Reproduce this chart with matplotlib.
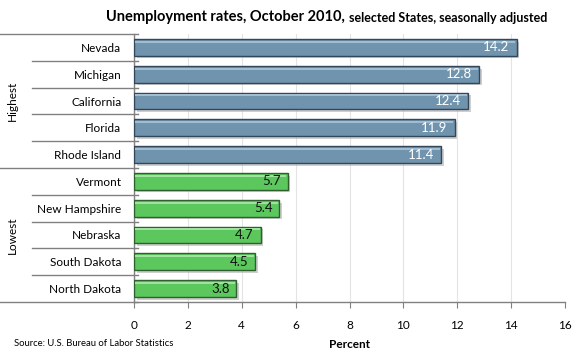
import matplotlib.pyplot as plt
import matplotlib.patheffects as pe
from matplotlib.lines import Line2D

plt.rcParams['font.family'] = ['Lato', 'DejaVu Sans']

# data
states = ['Nevada', 'Michigan', 'California', 'Florida', 'Rhode Island',
          'Vermont', 'New Hampshire', 'Nebraska', 'South Dakota', 'North Dakota']
rates = [14.2, 12.8, 12.4, 11.9, 11.4, 5.7, 5.4, 4.7, 4.5, 3.8]
groups = ['Highest', 'Lowest']
group_size = 5
xticks = [0, 2, 4, 6, 8, 10, 12, 14, 16]

blue_fill, blue_edge, blue_hi = '#7094ad', '#33475a', '#a3bdd0'
green_fill, green_edge, green_hi = '#5cc75c', '#2f5f2f', '#9fe29f'

fig = plt.figure(figsize=(5.8, 3.6), dpi=100)
ax = fig.add_axes([134 / 580, 1 - 302 / 360, 431 / 580, 268 / 360])

ypos = list(range(len(states)))
shadow = [pe.SimplePatchShadow(offset=(2, -2), shadow_rgbFace='#b0b0b0', alpha=0.6), pe.Normal()]
for i, (y, v) in enumerate(zip(ypos, rates)):
    hi = i < group_size
    fill = blue_fill if hi else green_fill
    edge = blue_edge if hi else green_edge
    light = blue_hi if hi else green_hi
    b = ax.barh(y, v, height=0.62, color=fill, edgecolor=edge, linewidth=1.0, zorder=3)
    for p in b:
        p.set_path_effects(shadow)
    # highlight strip near top of bar
    ax.barh(y - 0.21, v - 0.08, left=0.04, height=0.07, color=light, linewidth=0, zorder=4)
    ax.annotate(f'{v}', (v, y), xytext=(-5, 0), textcoords='offset points',
                ha='right', va='center', fontsize=9.5,
                color='white' if hi else '#111111', zorder=5)

ax.set_xlim(0, 16)
ax.set_ylim(len(states) - 0.5, -0.5)
ax.set_xticks(xticks)
ax.set_xticklabels([str(t) for t in xticks], fontsize=8.5)
ax.set_yticks(ypos)
ax.set_yticklabels(states, fontsize=8.5)
ax.tick_params(axis='y', length=0, pad=9)
ax.tick_params(axis='x', length=4, direction='out', color='#808080', pad=9)
ax.grid(axis='x', color='#e4e4e4', linewidth=0.8, zorder=0)
ax.set_axisbelow(True)
for s in ['top', 'right']:
    ax.spines[s].set_visible(False)
for s in ['left', 'bottom']:
    ax.spines[s].set_color('#808080')
    ax.spines[s].set_linewidth(1.0)

ax.set_xlabel('Percent', fontsize=8.5, fontweight='bold', labelpad=6)

# category separators left of axis
tr = ax.get_yaxis_transform()
x_inner = (32 - 134) / 431
x_outer = (0 - 134) / 431
for k in range(len(states) + 1):
    y = k - 0.5
    x0 = x_outer if k % group_size == 0 else x_inner
    ax.add_line(Line2D([x0, 0.01], [y, y], transform=tr, color='#808080',
                       linewidth=1.0, clip_on=False))

for g, name in enumerate(groups):
    yc = g * group_size + (group_size - 1) / 2
    ax.text((12 - 134) / 431, yc, name, transform=tr, rotation=90,
            ha='center', va='center', fontsize=8.5)

fig.text(345 / 580, 1 - 17 / 360, 'Unemployment rates, October 2010,', ha='right',
         va='center', fontsize=10.5, fontweight='bold')
fig.text(349 / 580, 1 - 17.5 / 360, 'selected States, seasonally adjusted', ha='left',
         va='center', fontsize=9, fontweight='bold')
fig.text(14 / 580, 1 - 344 / 360, 'Source: U.S. Bureau of Labor Statistics',
         ha='left', va='center', fontsize=6.8)

fig.savefig('out.png', dpi=100)
